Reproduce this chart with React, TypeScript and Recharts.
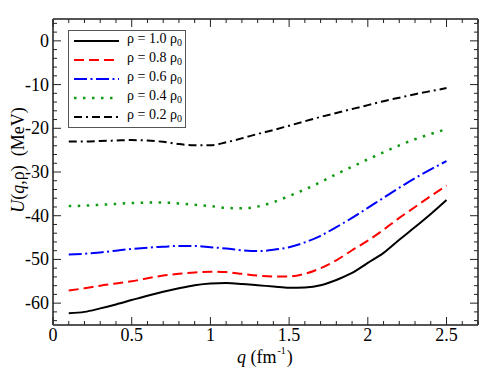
import { LineChart, Line, XAxis, YAxis, Legend } from 'recharts';

const FONT = '"Liberation Serif", "Times New Roman", serif';

// q in fm^-1
const qValues = [
  0.1, 0.2, 0.3, 0.4, 0.5, 0.6, 0.7, 0.8, 0.9, 1.0, 1.1, 1.2, 1.3,
  1.4, 1.5, 1.6, 1.7, 1.8, 1.9, 2.0, 2.1, 2.2, 2.3, 2.4, 2.5,
];

// U(q, rho) in MeV
const rho10 = [
  -62.3, -62.0, -61.2, -60.3, -59.3, -58.3, -57.4, -56.6, -55.9, -55.5, -55.4, -55.6, -55.9,
  -56.2, -56.5, -56.4, -55.9, -54.7, -53.1, -50.8, -48.5, -45.5, -42.6, -39.6, -36.4,
];
const rho08 = [
  -57.1, -56.6, -56.0, -55.5, -55.0, -54.3, -53.7, -53.3, -53.0, -52.8, -52.9, -53.3, -53.7,
  -53.9, -53.9, -53.3, -52.0, -50.2, -47.9, -45.7, -43.2, -40.5, -38.0, -35.5, -33.1,
];
const rho06 = [
  -48.9, -48.7, -48.4, -48.0, -47.6, -47.3, -47.1, -46.9, -46.9, -47.2, -47.5, -47.9, -48.1,
  -47.8, -47.2, -46.1, -44.6, -42.6, -40.5, -38.2, -35.9, -33.6, -31.4, -29.4, -27.5,
];
const rho04 = [
  -37.8, -37.7, -37.5, -37.3, -37.1, -37.0, -37.0, -37.2, -37.5, -37.8, -38.2, -38.3, -37.9,
  -36.9, -35.5, -34.0, -32.3, -30.5, -28.8, -27.1, -25.5, -23.9, -22.5, -21.3, -20.2,
];
const rho02 = [
  -23.0, -23.0, -22.9, -22.8, -22.7, -22.8, -23.1, -23.6, -23.9, -23.9, -23.2, -22.3, -21.3,
  -20.4, -19.4, -18.4, -17.4, -16.5, -15.6, -14.7, -13.8, -13.0, -12.2, -11.5, -10.8,
];

const xTicks = [
  0, 0.1, 0.2, 0.3, 0.4, 0.5, 0.6, 0.7, 0.8, 0.9, 1, 1.1, 1.2, 1.3,
  1.4, 1.5, 1.6, 1.7, 1.8, 1.9, 2, 2.1, 2.2, 2.3, 2.4, 2.5, 2.6, 2.7,
];
const xMajor = [0, 0.5, 1, 1.5, 2, 2.5];
const yTicks = [
  -64, -62, -60, -58, -56, -54, -52, -50, -48, -46, -44, -42, -40, -38, -36,
  -34, -32, -30, -28, -26, -24, -22, -20, -18, -16, -14, -12, -10, -8, -6, -4, -2, 0, 2, 4,
];
const yMajor = [-60, -50, -40, -30, -20, -10, 0];

const series = [
  { key: 'rho10', label: '1.0', values: rho10, color: '#000000', dash: undefined, width: 2 },
  { key: 'rho08', label: '0.8', values: rho08, color: '#ff0000', dash: '10 5', width: 2 },
  { key: 'rho06', label: '0.6', values: rho06, color: '#0000ff', dash: '13 3.5 2 3.5', width: 2 },
  { key: 'rho04', label: '0.4', values: rho04, color: '#119911', dash: '2.5 6.5', width: 2.5 },
  { key: 'rho02', label: '0.2', values: rho02, color: '#000000', dash: '8 4 2 4 8 4', width: 2 },
];

const data = qValues.map((q, i) => {
  const row: Record<string, number> = { q };
  series.forEach((s) => {
    row[s.key] = s.values[i];
  });
  return row;
});

const FRAME = '#555';
const TICK = '#222';
const isIn = (v: number, list: number[]) => list.some((m) => Math.abs(m - v) < 1e-6);

function makeXTick(side: 'bottom' | 'top') {
  return (props: any) => {
    const { x, y, payload } = props;
    const major = isIn(payload.value, xMajor);
    const len = major ? 8 : 4;
    const dir = side === 'bottom' ? -1 : 1;
    return (
      <g>
        <line x1={x} x2={x} y1={y} y2={y + dir * len} stroke={TICK} strokeWidth={1} />
        {side === 'bottom' && major && (
          <text x={x} y={y + 16} textAnchor="middle" fontFamily={FONT} fontSize={18} fill="#000">
            {String(payload.value)}
          </text>
        )}
      </g>
    );
  };
}

function makeYTick(side: 'left' | 'right') {
  return (props: any) => {
    const { x, y, payload } = props;
    const major = isIn(payload.value, yMajor);
    const len = major ? 8 : 4;
    const dir = side === 'left' ? 1 : -1;
    return (
      <g>
        <line x1={x} x2={x + dir * len} y1={y} y2={y} stroke={TICK} strokeWidth={1} />
        {side === 'left' && major && (
          <text x={x - 4} y={y + 6} textAnchor="end" fontFamily={FONT} fontSize={18} fill="#000">
            {String(payload.value)}
          </text>
        )}
      </g>
    );
  };
}

const renderXLabel = () => (
  <text x={237} y={363} textAnchor="start" fontFamily={FONT} fontSize={18} fill="#000">
    <tspan fontStyle="italic">q</tspan>
    <tspan> (fm</tspan>
    <tspan dx={1} dy={-9} fontSize={10}>-1</tspan>
    <tspan dx={1} dy={9}>)</tspan>
  </text>
);

const renderYLabel = () => (
  <text
    x={18}
    y={160}
    transform="rotate(-90, 18, 160)"
    textAnchor="middle"
    dominantBaseline="central"
    fontFamily={FONT}
    fontSize={18}
    fill="#000"
  >
    <tspan fontStyle="italic">U</tspan>
    <tspan>(</tspan>
    <tspan fontStyle="italic">q</tspan>
    <tspan>,ρ)</tspan>
    <tspan dx={9}>(MeV)</tspan>
  </text>
);

const renderLegend = () => (
  <div
    style={{
      position: 'relative',
      width: 118,
      height: 98,
      border: `1px solid ${FRAME}`,
      boxSizing: 'border-box',
      background: '#fff',
      fontFamily: FONT,
      fontSize: 14,
      color: '#000',
    }}
  >
    {series.map((s, i) => (
      <div
        key={s.key}
        style={{
          position: 'absolute',
          left: 4,
          top: 2 + i * 19.1,
          height: 16,
          display: 'flex',
          alignItems: 'center',
          whiteSpace: 'nowrap',
        }}
      >
        <svg width={46} height={16}>
          <line x1={1} x2={46} y1={8} y2={8} stroke={s.color} strokeWidth={s.width} strokeDasharray={s.dash} />
        </svg>
        <span style={{ marginLeft: 8, lineHeight: '16px' }}>
          ρ = {s.label} ρ<sub style={{ fontSize: 10, verticalAlign: -3 }}>0</sub>
        </span>
      </div>
    ))}
  </div>
);

export default function App() {
  return (
    <div style={{ position: 'absolute', left: 0, top: 0, width: 491, height: 379, background: '#fff' }}>
      <LineChart width={491} height={379} data={data} margin={{ top: 18, right: 12, bottom: 53, left: 52 }}>
        <XAxis
          xAxisId="bottom"
          dataKey="q"
          type="number"
          domain={[0, 2.7]}
          allowDataOverflow
          ticks={xTicks}
          interval={0}
          height={1}
          tickSize={0}
          tickMargin={0}
          tickLine={false}
          axisLine={{ stroke: FRAME, strokeWidth: 2 }}
          tick={makeXTick('bottom')}
          label={{ content: renderXLabel }}
        />
        <XAxis
          xAxisId="top"
          orientation="top"
          dataKey="q"
          type="number"
          domain={[0, 2.7]}
          allowDataOverflow
          ticks={xTicks}
          interval={0}
          height={1}
          tickSize={0}
          tickMargin={0}
          tickLine={false}
          axisLine={{ stroke: FRAME, strokeWidth: 2 }}
          tick={makeXTick('top')}
        />
        <YAxis
          yAxisId="left"
          type="number"
          domain={[-65, 5]}
          allowDataOverflow
          ticks={yTicks}
          interval={0}
          width={1}
          tickSize={0}
          tickMargin={0}
          tickLine={false}
          axisLine={{ stroke: FRAME, strokeWidth: 2 }}
          tick={makeYTick('left')}
          label={{ content: renderYLabel }}
        />
        <YAxis
          yAxisId="right"
          orientation="right"
          type="number"
          domain={[-65, 5]}
          allowDataOverflow
          ticks={yTicks}
          interval={0}
          width={1}
          tickSize={0}
          tickMargin={0}
          tickLine={false}
          axisLine={{ stroke: FRAME, strokeWidth: 2 }}
          tick={makeYTick('right')}
        />
        {series.map((s) => (
          <Line
            key={s.key}
            xAxisId="bottom"
            yAxisId="left"
            dataKey={s.key}
            type="monotone"
            stroke={s.color}
            strokeWidth={s.width}
            strokeDasharray={s.dash}
            dot={false}
            activeDot={false}
            isAnimationActive={false}
          />
        ))}
        <Legend
          layout="vertical"
          align="center"
          verticalAlign="middle"
          content={renderLegend}
          wrapperStyle={{ position: 'absolute', left: 68, top: 30, width: 118, height: 98 }}
        />
      </LineChart>
    </div>
  );
}
